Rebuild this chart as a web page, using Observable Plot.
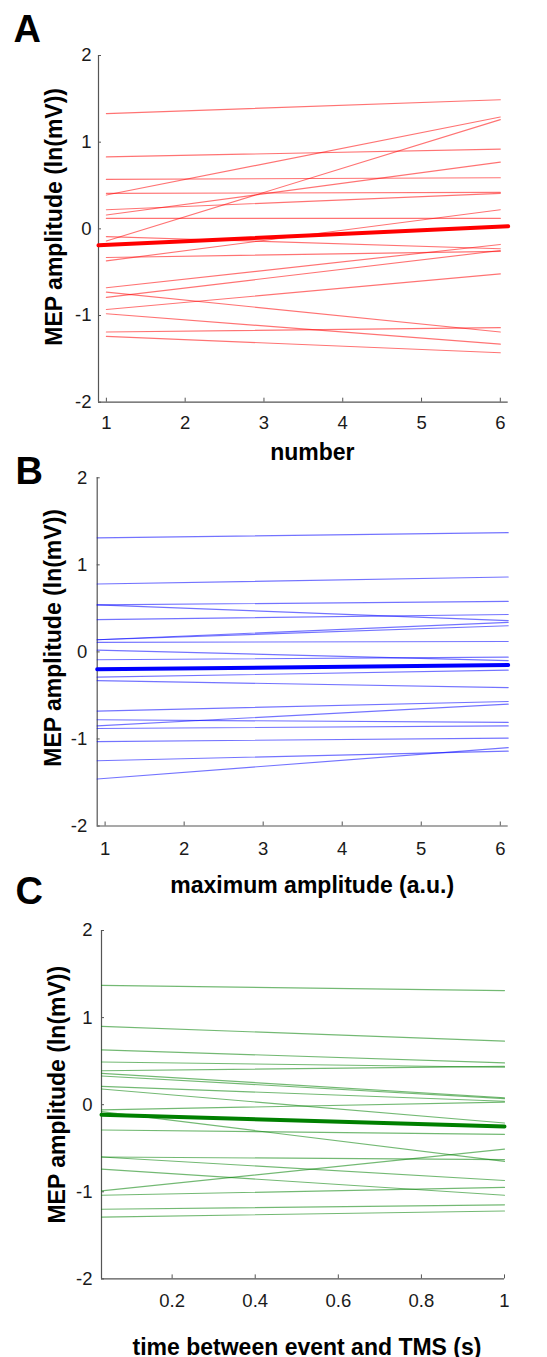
<!DOCTYPE html>
<html><head><meta charset="utf-8">
<script src="https://cdn.jsdelivr.net/npm/d3@7"></script>
<script src="https://cdn.jsdelivr.net/npm/@observablehq/plot@0.6"></script>
<style>
body{margin:0;background:#fff;}
#wrap{position:relative;width:547px;height:1357px;font-family:"Liberation Sans",Arial,sans-serif;}
#wrap svg{position:absolute;left:0;overflow:visible;background:transparent;}
</style></head><body><div id="wrap"></div>
<script>
const yTicks = [-2, -1, 0, 1, 2];
const yDomain = [-2, 2];
const yLabel = "MEP amplitude (ln(mV))";

// Panel A: number
const aXDomain = [0.9, 6.1];
const aXTicks = [1, 2, 3, 4, 5, 6];
const aX = [1, 6];
const aStart = [1.33, 0.83, 0.57, 0.39, 0.41, 0.22, 0.16, 0.12, -0.14, -0.09, -0.33, -0.37, -0.68, -0.79, -0.73, -0.93, -0.98, -1.19, -1.24];
const aEnd   = [1.49, 0.92, 0.59, 1.29, 0.42, 0.41, 0.77, 0.12, 1.26, -0.23, -0.26, 0.22, -0.18, -0.25, -1.19, -0.52, -1.33, -1.14, -1.43];
const aMeanX = [0.9, 6.1];
const aMean = [-0.19, 0.03];

// Panel B: maximum amplitude
const bXDomain = [0.9, 6.1];
const bXTicks = [1, 2, 3, 4, 5, 6];
const bX = [0.9, 6.1];
const bStart = [1.31, 0.78, 0.54, 0.54, 0.37, 0.14, 0.14, 0.11, 0.02, -0.09, -0.29, -0.33, -0.68, -0.78, -0.85, -0.88, -1.03, -1.25, -1.46];
const bEnd   = [1.37, 0.86, 0.58, 0.36, 0.43, 0.34, 0.30, 0.12, -0.10, -0.06, -0.21, -0.41, -0.57, -0.81, -0.60, -0.85, -0.99, -1.14, -1.10];
const bMeanX = [0.9, 6.1];
const bMean = [-0.20, -0.15];

// Panel C: time between event and TMS
const cXDomain = [0.03, 1];
const cXTicks = [0.2, 0.4, 0.6, 0.8, 1];
const cX = [0.03, 1];
const cStart = [1.37, 0.90, 0.63, 0.49, 0.39, 0.36, 0.33, 0.21, 0.18, -0.06, -0.08, -0.29, -0.60, -0.60, -0.74, -0.99, -1.04, -1.20, -1.29];
const cEnd   = [1.31, 0.73, 0.48, 0.43, 0.44, 0.08, 0.07, 0.04, -0.21, 0.03, -0.65, -0.34, -0.63, -0.87, -1.04, -0.51, -0.95, -1.15, -1.22];
const cMeanX = [0.03, 1];
const cMean = [-0.115, -0.25];

const panels = [
  {top: 0, height: 470, mt: 55, mb: 68.3, ml: 98, mr: 39.3,
   xDomain: aXDomain, xTicks: aXTicks, xs: aX, starts: aStart, ends: aEnd, meanX: aMeanX, mean: aMean,
   color: "#ff0000", letter: "A", letterDx: -85, letterDy: -40,
   xLabel: "number", xLabelDx: 9, xLabelDy: 50, yLabelDy: -12, xPad: 17.3, yPad: 10},
  {top: 450, height: 450, mt: 27.3, mb: 74.5, ml: 96.7, mr: 39.3,
   xDomain: bXDomain, xTicks: bXTicks, xs: bX, starts: bStart, ends: bEnd, meanX: bMeanX, mean: bMean,
   color: "#0000ff", letter: "B", letterDx: -81.7, letterDy: -20.6,
   xLabel: "maximum amplitude (a.u.)", xLabelDx: 9.5, xLabelDy: 59.5, yLabelDy: -14, xPad: 20, yPad: 13},
  {top: 860, height: 497, mt: 70, mb: 78.6, ml: 101, mr: 43,
   xDomain: cXDomain, xTicks: cXTicks, xs: cX, starts: cStart, ends: cEnd, meanX: cMeanX, mean: cMean,
   color: "#008000", letter: "C", letterDx: -86, letterDy: -53,
   xLabel: "time between event and TMS (s)", xLabelDx: 4, xLabelDy: 68.3, yLabelDy: -10, xPad: 18.7, yPad: 12}
];

const wrap = document.getElementById("wrap");
for (const p of panels) {
  const rows = p.starts.flatMap((s, i) => [
    {id: i, x: p.xs[0], y: s},
    {id: i, x: p.xs[1], y: p.ends[i]}
  ]);
  const meanRows = p.meanX.map((x, i) => ({x, y: p.mean[i]}));
  const svg = Plot.plot({
    width: 547, height: p.height,
    marginTop: p.mt, marginBottom: p.mb, marginLeft: p.ml, marginRight: p.mr,
    style: {color: "#1a1a1a", background: "transparent", fontFamily: "'Liberation Sans', Arial, sans-serif", overflow: "visible"},
    x: {domain: p.xDomain},
    y: {domain: yDomain},
    marks: [
      Plot.ruleX([p.xDomain[0]], {stroke: "#555", strokeWidth: 1.2}),
      Plot.ruleY([yDomain[0]], {stroke: "#555", strokeWidth: 1.2}),
      Plot.axisY({ticks: yTicks, tickSize: -3, tickPadding: p.yPad, tickFormat: d => String(d), label: null, fontSize: 18.5, stroke: "#555"}),
      Plot.axisX({ticks: p.xTicks, tickSize: -4, tickPadding: p.xPad, tickFormat: d => String(d), label: null, fontSize: 18.5, stroke: "#555"}),
      Plot.line(rows, {x: "x", y: "y", z: "id", stroke: p.color, strokeOpacity: 0.55, strokeWidth: 1.15}),
      Plot.line(meanRows, {x: "x", y: "y", stroke: p.color, strokeWidth: 4}),
      Plot.text([p.letter], {text: d => d, frameAnchor: "top-left", dx: p.letterDx, dy: p.letterDy, fontSize: 38, fontWeight: "bold", textAnchor: "start", lineAnchor: "top", fill: "#000"}),
      Plot.text([yLabel], {text: d => d, frameAnchor: "left", rotate: -90, dx: -44, dy: p.yLabelDy, fontSize: 23, fontWeight: "bold", textAnchor: "middle", lineAnchor: "middle", fill: "#000"}),
      Plot.text([p.xLabel], {text: d => d, frameAnchor: "bottom", dx: p.xLabelDx, dy: p.xLabelDy, fontSize: 23, fontWeight: "bold", textAnchor: "middle", lineAnchor: "middle", fill: "#000"})
    ]
  });
  svg.style.top = p.top + "px";
  wrap.appendChild(svg);
}
</script>
</body></html>
